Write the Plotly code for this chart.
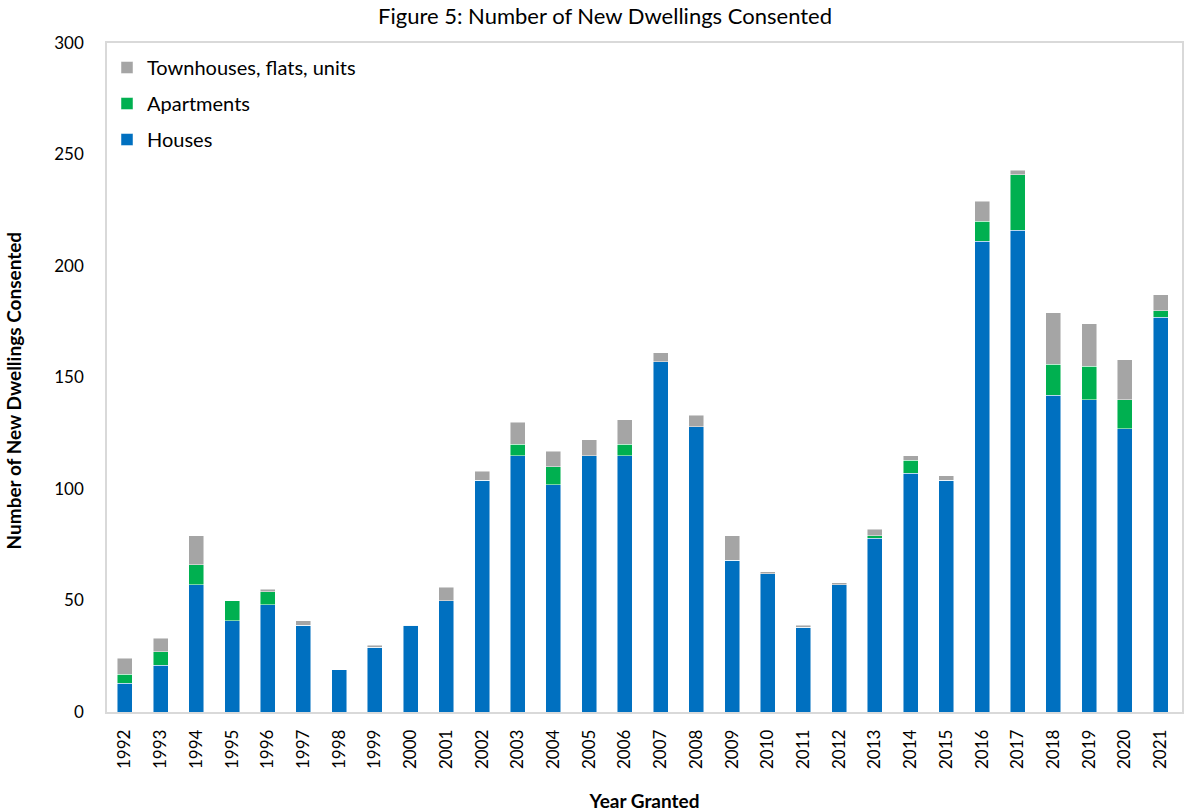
import plotly.graph_objects as go

years = [str(y) for y in range(1992, 2022)]
houses = [13, 21, 57, 41, 48, 39, 19, 29, 39, 50, 104, 115, 102, 115, 115, 157, 128,
          68, 62, 38, 57, 78, 107, 104, 211, 216, 142, 140, 127, 177]
apartments = [4, 6, 9, 9, 6, 0, 0, 0, 0, 0, 0, 5, 8, 0, 5, 0, 0,
              0, 0, 0, 0, 1, 6, 0, 9, 25, 14, 15, 13, 3]
townhouses = [7, 6, 13, 0, 1, 2, 0, 1, 0, 6, 4, 10, 7, 7, 11, 4, 5,
              11, 1, 1, 1, 3, 2, 2, 9, 2, 23, 19, 18, 7]

FONT = "Lato, Carlito, Calibri, sans-serif"
# (name, values, colour, legend rank) - stacked bottom to top
series = [
    ("Houses", houses, "#0070C0", 3),
    ("Apartments", apartments, "#00B050", 2),
    ("Townhouses, flats, units", townhouses, "#A5A5A5", 1),
]

fig = go.Figure()
for name, vals, color, rank in series:
    fig.add_trace(go.Bar(
        x=years, y=vals, name=name, legendgroup=name, legendrank=rank,
        marker=dict(color=color, line=dict(color="rgba(255,255,255,0.6)", width=0.8)),
    ))

fig.update_layout(
    width=1184, height=812,
    barmode="stack", bargap=0.58,
    paper_bgcolor="white", plot_bgcolor="white",
    margin=dict(l=107, r=0, t=43, b=100),
    font=dict(family=FONT, size=16, color="black"),
    title=dict(text="Figure 5: Number of New Dwellings Consented",
               x=0.511, xref="container", xanchor="center",
               y=1 - 16 / 812, yref="container", yanchor="middle",
               font=dict(family=FONT, size=22, color="black")),
    legend=dict(x=0.0, y=0.9925, xanchor="left", yanchor="top",
                traceorder="grouped", tracegroupgap=7,
                font=dict(family=FONT, size=20, color="black"),
                bgcolor="rgba(0,0,0,0)"),
    showlegend=True,
    annotations=[dict(
        text="<b>Number of New Dwellings Consented</b>",
        xref="paper", yref="paper", x=(13 - 107) / 1077, y=(711.5 - 390) / 668.5,
        xanchor="center", yanchor="middle", textangle=-90, showarrow=False,
        font=dict(family=FONT, size=19, color="black"),
    )],
)
fig.update_xaxes(
    type="category", range=[-0.5, 29.6],
    tickangle=-90, tickfont=dict(family=FONT, size=17, color="black"),
    showline=True, linecolor="#D9D9D9", linewidth=1.5, mirror=True,
    showgrid=False, ticks="", ticklabelstandoff=9,
    title=dict(text="<b>Year Granted</b>", font=dict(family=FONT, size=19, color="black"),
               standoff=30),
)
fig.update_yaxes(
    range=[0, 300], tick0=0, dtick=50,
    tickfont=dict(family=FONT, size=17, color="black"),
    showline=True, linecolor="#D9D9D9", linewidth=1.5, mirror=True,
    showgrid=False, zeroline=False, ticks="", ticklabelstandoff=18,
)

fig.write_html("out.html")
